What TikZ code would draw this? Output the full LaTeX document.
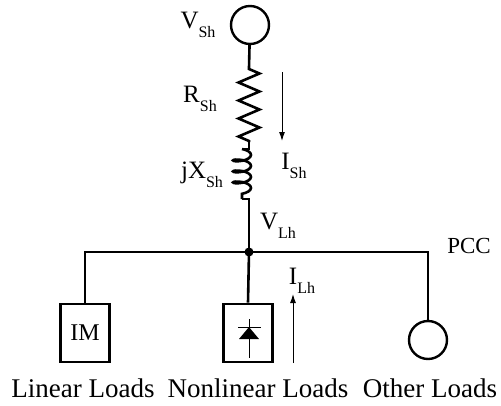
\documentclass[tikz,border=0pt]{standalone}
\usepackage{fontspec}
\setmainfont{Liberation Serif}
\usetikzlibrary{positioning, arrows, arrows.meta, decorations.pathmorphing}

% quantity with a lowered Word-style subscript
\newcommand{\quan}[2]{#1\raisebox{-9pt}{\fontsize{16}{16}\selectfont #2}}

\begin{document}
\begin{tikzpicture}[x=1pt,y=-1pt,
  wire/.style={line width=2.6pt},
  flow/.style={line width=1pt,-{Latex[length=9pt,width=6pt]}},
  loadbox/.style={draw,line width=2.6pt,minimum width=49pt,minimum height=58pt,inner sep=0pt},
  srcring/.style={draw,circle,line width=2.4pt,minimum size=38pt,inner sep=0pt},
  lbl/.style={font=\fontsize{25}{25}\selectfont,inner sep=0pt},
  loadname/.style={font=\fontsize{27}{27}\selectfont,inner sep=0pt,anchor=base}]
\useasboundingbox (0,0) rectangle (501,405);

% --- source and line impedance ---
\node[srcring] (vs) at (250,25) {};
\coordinate (r1) at (249,68);
\coordinate (r2) at (249,142);
\coordinate (c1) at (242,149);
\coordinate (c2) at (242,199);
\coordinate (pcc) at (249,252);
\draw[wire] (vs) -- (r1);
\draw[wire,decorate,decoration={zigzag,segment length=18pt,amplitude=10.5pt,pre length=1pt,post length=1pt}] (r1) -- (r2);
\draw[wire] (r2) |- (c1);
\draw[wire,decorate,decoration={coil,aspect=0.35,segment length=11pt,amplitude=9pt}] (c1) -- (c2);
\draw[wire] (c2) -| (pcc);
\fill (pcc) circle (4.5);

% --- loads ---
\node[loadbox] (im) at (85,333) {\fontsize{24}{24}\selectfont IM};
\node[loadbox] (nl) at (248,333) {};
\node[srcring] (ol) at (428,340) {};
\draw[wire] (im.north) |- (pcc) -| (ol.north);
\draw[wire] (pcc) -- (nl.north);
% diode symbol
\draw[line width=1pt] (249,319) -- (249,358);
\draw[line width=1pt] (238,327) -- (261,327);
\fill (249,327) -- (239,339) -- (259,339) -- cycle;

% --- currents ---
\coordinate (ia) at (282,72);
\coordinate (ib) at (282,141);
\draw[flow] (ia) -- (ib);
\coordinate (ja) at (293,363);
\coordinate (jb) at (293,294);
\draw[flow] (ja) -- (jb);

% --- labels ---
\node[lbl] (tvs) at (198,25) {\quan{V}{Sh}};
\node[lbl] (trs) at (200,99) {\quan{R}{Sh}};
\node[lbl] (txs) at (202,175) {\quan{jX}{Sh}};
\node[lbl] (tis) at (294,166) {\quan{I}{Sh}};
\node[lbl] (tvl) at (278,226) {\quan{V}{Lh}};
\node[lbl] (til) at (302,281) {\quan{I}{Lh}};
\node[lbl,font=\fontsize{23}{23}\selectfont] (tpcc) at (469,246) {PCC};
\node[loadname] (tlin) at (83,397) {Linear Loads};
\node[loadname] (tnon) at (258,397) {Nonlinear Loads};
\node[loadname] (toth) at (430,397) {Other Loads};
\end{tikzpicture}
\end{document}
